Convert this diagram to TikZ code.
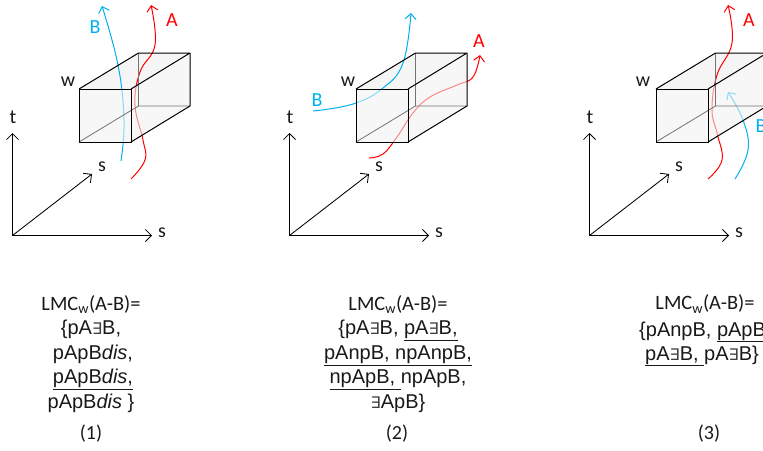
\documentclass[tikz,border=0pt]{standalone}
\usepackage{fontspec}
\setmainfont{Carlito}
\newfontfamily\arfam{Liberation Sans}
\newfontfamily\djfam{DejaVu Sans}
\usetikzlibrary{arrows.meta}
\newcommand{\exsym}{{\djfam\fontsize{16}{24}\selectfont\color{black!75}∃}}
\newcommand{\ull}[1]{$\underline{\hbox{#1}}$}
\newcommand{\disw}{\textit{dis}}
\definecolor{cyanone}{HTML}{00B0F0}
\tikzset{
  axisline/.style={draw=black,line width=0.85pt,-{Straight Barb[length=6pt,width=12pt,line width=0.85pt]}},
  boxedge/.style={draw=black,line width=1pt,line join=round},
  innerline/.style={draw=black!55,line width=0.8pt},
  backface/.style={fill=black!4,draw=none},
  glass/.style={fill=black!2,fill opacity=0.55,draw=none},
  curveA/.style={draw=red,line width=1pt,-{Straight Barb[length=5.5pt,width=11pt,line width=1pt]}},
  curveB/.style={draw=cyanone,line width=1pt,-{Straight Barb[length=5.5pt,width=11pt,line width=1pt]}},
  lab/.style={font=\fontsize{20}{22}\selectfont,inner sep=0pt,text=black!90},
  labA/.style={font=\fontsize{20}{22}\selectfont,inner sep=0pt,text=red},
  labB/.style={font=\fontsize{20}{22}\selectfont,inner sep=0pt,text=cyanone},
  formula/.style={align=center,inner sep=0pt,font=\arfam\fontsize{20}{24.5}\selectfont,text=black!90},
  captiontext/.style={inner sep=0pt,font=\fontsize{20}{22}\selectfont,text=black!90},
}
\newcommand{\lmc}{{\fontspec{Carlito}\fontsize{20.4}{24}\selectfont LMC\textsubscript{w}(A-B)=}}
\newcommand{\framecoords}[2]{%
  \coordinate (#1o) at (#2+12.5,235.5);
  \coordinate (#1t) at (#2+12.5,133);
  \coordinate (#1r) at (#2+152,235.5);
  \coordinate (#1d) at (#2+92,174);
  \coordinate (#1a) at (#2+79,89);
  \coordinate (#1b) at (#2+131,89);
  \coordinate (#1c) at (#2+131,142);
  \coordinate (#1e) at (#2+79,142);
  \coordinate (#1f) at (#2+138.5,53);
  \coordinate (#1g) at (#2+190,53);
  \coordinate (#1h) at (#2+190,106);
  \coordinate (#1i) at (#2+138.5,106);
  \path[backface] (#1f) -- (#1g) -- (#1h) -- (#1i) -- cycle;
  \path[backface] (#1a) -- (#1f) -- (#1g) -- (#1b) -- cycle;
  \path[backface] (#1e) -- (#1i) -- (#1h) -- (#1c) -- cycle;
  \path[backface] (#1a) -- (#1f) -- (#1i) -- (#1e) -- cycle;
}
\newcommand{\framefront}[3]{%
  \path[glass] (#1a) -- (#1b) -- (#1c) -- (#1e) -- cycle;
  \path[glass] (#1b) -- (#1g) -- (#1h) -- (#1c) -- cycle;
  \draw[innerline] (#1f) -- (#1i) (#1i) -- (#1h) (#1i) -- (#1e);
  \draw[boxedge] (#1a) -- (#1b) -- (#1c) -- (#1e) -- cycle;
  \draw[boxedge] (#1a) -- (#1f) -- (#1g) -- (#1b);
  \draw[boxedge] (#1g) -- (#1h) -- (#1c);
  \draw[axisline] (#1o) -- (#1t);
  \draw[axisline] (#1o) -- (#1r);
  \draw[axisline] (#1o) -- (#1d);
  \node[lab] (#1lw) at (#3,81.5) {w};
  \node[lab] (#1lt) at (#2+13,117) {t};
  \node[lab] (#1ls) at (#2+102,167) {s};
  \node[lab] (#1lr) at (#2+162,233) {s};
}
\begin{document}
\begin{tikzpicture}[x=1pt,y=-1pt]
\useasboundingbox (0,0) rectangle (763,450);
\clip (0,0) rectangle (763,450);
% panel 1
\framecoords{p}{0}
\draw[curveB] plot[smooth,tension=0.7] coordinates {(121,161) (124,120) (118,65) (102,6)};
\draw[curveA] plot[smooth,tension=0.7] coordinates {(131,179) (145,160) (143,140) (135,105) (140,72) (155,45) (151,5)};
\framefront{p}{0}{68}
\node[labB] (pB) at (95,27) {B};
\node[labA] (pA) at (172,20) {A};
\node[formula] (pF) at (91,354) {\lmc\\\{pA\exsym B,\\\hspace{4pt}pApB\disw,\\\hspace{4pt}\ull{pApB\disw,}\\pApB\disw\ \}};
\node[captiontext] (pC) at (91,434) {(1)};
% panel 2
\framecoords{q}{277}
\draw[curveB] plot[smooth,tension=0.7] coordinates {(313,111) (353,104) (383,88) (403,63) (411,13)};
\draw[curveA] plot[smooth,tension=0.7] coordinates {(369,158) (383,154) (397,137) (413,113) (430,97) (457,85) (473,77) (480,55)};
\framefront{q}{277}{348}
\node[labB] (qB) at (317,100) {B};
\node[labA] (qA) at (479,41) {A};
\node[formula] (qF) at (398,354) {\lmc\\\{pA\exsym B, \ull{pA\exsym B,}\\\ull{pAnpB, npAnpB,}\\\ull{npApB, }npApB,\\\exsym ApB\}};
\node[captiontext] (qC) at (397,434) {(2)};
% panel 3
\framecoords{s}{577}
\draw[curveA] plot[smooth,tension=0.7] coordinates {(708,179) (722,160) (717,133) (712,110) (717,75) (732,43) (728,5)};
\draw[curveB] plot[smooth,tension=0.7] coordinates {(735,179) (748,150) (743,120) (728,92)};
\framefront{s}{577}{643}
\node[labA] (sA) at (749,20) {A};
\node[labB] (sB) at (761,126) {B};
\node[formula] (sF) at (705,304) {\lmc};
\node[formula,anchor=base west] (sG) at (639,336) {\{pAnpB, \ull{pApB}};
\node[formula,anchor=base west] (sH) at (645,360) {\ull{pA\exsym B, }pA\exsym B\}};
\node[captiontext] (sC) at (709,434) {(3)};
\end{tikzpicture}
\end{document}
